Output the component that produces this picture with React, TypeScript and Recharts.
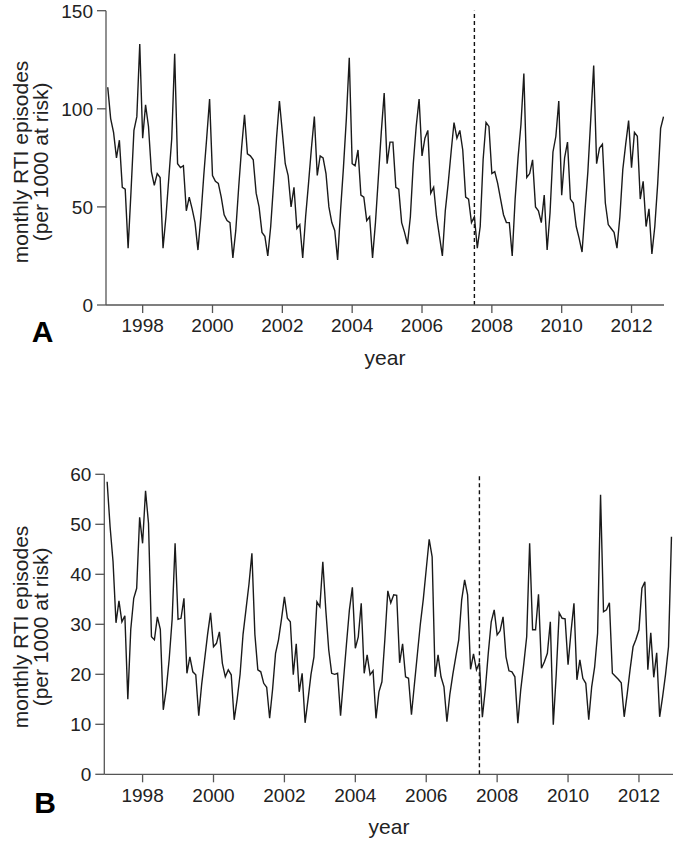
import React from 'react';
import { LineChart, Line, XAxis, YAxis, ReferenceLine } from 'recharts';

// monthly RTI episodes per 1000 at risk, Jan 1997 - Dec 2012 (one row per year)
const rtiA = [
  111, 95, 88, 75, 84, 60, 59, 29, 58, 89, 96, 133,
  85, 102, 91, 68, 61, 67, 65, 29, 45, 65, 85, 128,
  72, 70, 71, 48, 55, 49, 42, 28, 45, 66, 85, 105,
  66, 63, 62, 55, 46, 43, 42, 24, 38, 60, 80, 97,
  77, 76, 74, 57, 50, 37, 35, 25, 40, 62, 85, 104,
  88, 72, 66, 50, 60, 39, 41, 24, 45, 62, 80, 96,
  66, 76, 75, 67, 50, 42, 38, 23, 48, 70, 95, 126,
  72, 71, 79, 56, 55, 43, 45, 24, 42, 65, 88, 108,
  72, 83, 83, 60, 59, 42, 37, 31, 45, 72, 91, 105,
  76, 85, 89, 57, 60, 45, 35, 25, 48, 62, 78, 93,
  85, 89, 79, 55, 54, 42, 45, 29, 40, 74, 93, 91,
  67, 68, 62, 54, 46, 42, 42, 25, 54, 75, 92, 118,
  65, 67, 74, 50, 48, 42, 56, 28, 47, 78, 86, 104,
  56, 75, 83, 54, 52, 40, 34, 27, 48, 68, 95, 122,
  72, 80, 82, 52, 41, 39, 37, 29, 45, 69, 82, 94,
  70, 88, 86, 54, 63, 40, 49, 26, 40, 62, 90, 96,
];

const rtiB = [
  58.5, 49.5, 42.5, 30.3, 34.7, 30.5, 31.7, 15, 29, 35.2, 37.2, 51.4,
  46.2, 56.7, 50.2, 27.5, 26.9, 31.5, 29, 12.9, 17, 23, 31, 46.2,
  31, 31.2, 35.2, 20.2, 23.5, 20.5, 19.9, 11.7, 18, 23, 28, 32.3,
  25.5, 26.2, 28.5, 22.2, 19.5, 20.9, 19.9, 10.9, 15, 20, 28, 33,
  38, 44.2, 28, 20.9, 20.5, 18.2, 17.4, 11.2, 17, 24.2, 26.9, 31,
  35.5, 31.2, 30.5, 19.9, 26.1, 16.5, 20.2, 10.3, 15, 20, 23.5, 34.5,
  33.5, 42.5, 32.9, 24.9, 20.2, 20, 20.2, 11.7, 18.9, 26, 32.9, 37.4,
  25.2, 27.5, 34.2, 20.2, 23.9, 19.9, 20.7, 11.2, 16.5, 18.5, 27, 36.7,
  34.3, 35.9, 35.8, 22.3, 26.1, 19.5, 19.2, 11.9, 18, 24, 30, 35,
  41, 47, 43.5, 19.5, 23.9, 19.5, 17.5, 10.5, 16, 20, 23.5, 26.9,
  34.9, 38.9, 35.9, 21, 24.1, 20.9, 22.3, 11.4, 17, 24.2, 30.5, 32.9,
  27.9, 28.7, 31.5, 23.5, 20.7, 20.5, 19.5, 10.2, 17, 22, 27.5, 46.2,
  28.9, 28.9, 36, 21.2, 22.5, 24.2, 30.5, 9.9, 20, 32.3, 31.2, 31.1,
  21.9, 28.5, 34.2, 18.9, 22.9, 19.2, 18.2, 10.9, 17.5, 21.5, 28.2, 55.9,
  32.5, 32.9, 34.3, 20.2, 19.6, 19, 18.3, 11.5, 16, 21, 25.5, 27,
  28.9, 37.2, 38.5, 20.9, 28.3, 19.4, 24.3, 11.5, 15.5, 20, 25.5, 47.5,
];

const firstYear = 1997;
const yearTicks = [1998, 2000, 2002, 2004, 2006, 2008, 2010, 2012];
const ticksA = [0, 50, 100, 150];
const ticksB = [0, 10, 20, 30, 40, 50, 60];
const changeDate = 2007.5;

const toRows = (vals: number[]) =>
  vals.map((v, i) => ({ t: firstYear + i / 12, v }));

const rowsA = toRows(rtiA);
const rowsB = toRows(rtiB);

const FONT = '"Liberation Sans", Arial, sans-serif';
const AXIS = '#555';
const INK = '#1a1a1a';

const tickStyle = { fill: '#222', fontSize: 19, fontFamily: FONT };

interface PanelProps {
  rows: { t: number; v: number }[];
  top: number;
  height: number;
  margin: { top: number; right: number; bottom: number; left: number };
  yWidth: number;
  xDomain: [number, number];
  yMax: number;
  yTicks: number[];
}

const Panel = ({ rows, top, height, margin, yWidth, xDomain, yMax, yTicks }: PanelProps) => (
  <div style={{ position: 'absolute', left: 0, top }}>
    <LineChart width={675} height={height} data={rows} margin={margin}>
      <XAxis
        dataKey="t"
        type="number"
        domain={xDomain}
        allowDataOverflow
        ticks={yearTicks}
        tick={tickStyle}
        tickSize={8}
        tickMargin={6}
        height={30}
        stroke={AXIS}
        strokeWidth={1.3}
      />
      <YAxis
        type="number"
        domain={[0, yMax]}
        allowDataOverflow
        ticks={yTicks}
        tick={tickStyle}
        tickSize={9}
        tickMargin={4}
        width={yWidth}
        stroke={AXIS}
        strokeWidth={1.3}
      />
      <ReferenceLine x={changeDate} stroke="#111" strokeWidth={1.4} strokeDasharray="4 3" />
      <Line
        type="linear"
        dataKey="v"
        stroke={INK}
        strokeWidth={1.4}
        dot={false}
        isAnimationActive={false}
      />
    </LineChart>
  </div>
);

const YTitle = ({ cy }: { cy: number }) => (
  <>
    <text transform={`translate(28,${cy}) rotate(-90)`} textAnchor="middle">
      monthly RTI episodes
    </text>
    <text transform={`translate(48,${cy}) rotate(-90)`} textAnchor="middle">
      (per 1000 at risk)
    </text>
  </>
);

export default function App() {
  return (
    <div style={{ position: 'absolute', left: 0, top: 0, width: 675, height: 844, background: '#fff' }}>
      <Panel
        rows={rowsA}
        top={0}
        height={380}
        margin={{ top: 10.7, right: 11, bottom: 45, left: 0 }}
        yWidth={106}
        xDomain={[1996.95, 2012.93]}
        yMax={150}
        yTicks={ticksA}
      />
      <Panel
        rows={rowsB}
        top={440}
        height={404}
        margin={{ top: 34.3, right: 2, bottom: 39.7, left: 0 }}
        yWidth={104.3}
        xDomain={[1996.92, 2012.96]}
        yMax={60}
        yTicks={ticksB}
      />
      <svg
        width={675}
        height={844}
        style={{ position: 'absolute', left: 0, top: 0, pointerEvents: 'none' }}
        fontFamily={FONT}
        fill="#222"
      >
        <g fontSize={21}>
          <YTitle cy={162} />
          <text x={385} y={365} textAnchor="middle">year</text>
        </g>
        <g fontSize={21} transform="translate(0,465)">
          <YTitle cy={162} />
          <text x={389} y={369} textAnchor="middle">year</text>
        </g>
        <text x={42.5} y={342} fontSize={30} fontWeight="bold" textAnchor="middle" fill="#000">A</text>
        <text x={45} y={813} fontSize={30} fontWeight="bold" textAnchor="middle" fill="#000">B</text>
      </svg>
    </div>
  );
}
